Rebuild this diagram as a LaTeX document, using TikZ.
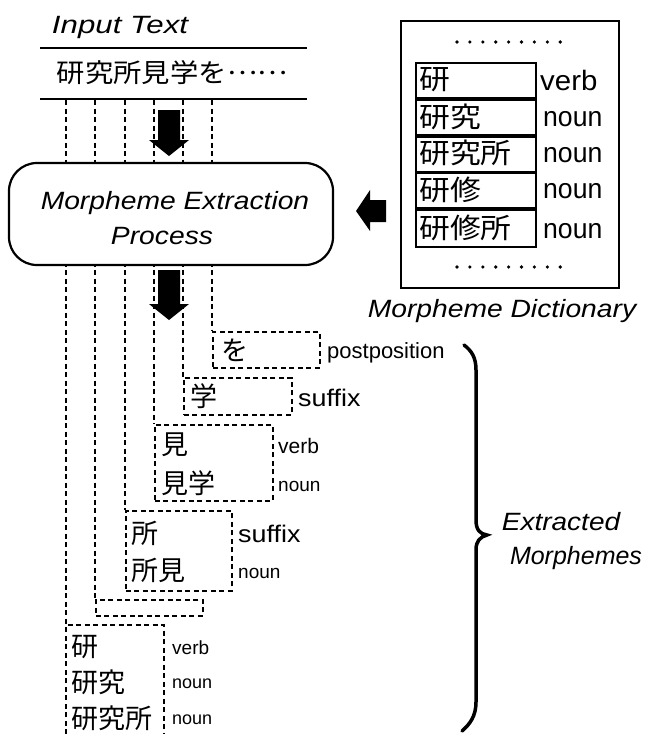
\documentclass[tikz,border=0pt]{standalone}
\usepackage{fontspec}
\setmainfont{Liberation Sans}
\newfontfamily\jpf{Noto Sans CJK JP}
\newcommand{\hsc}[2]{\scalebox{#1}[1]{#2}}
\newcommand{\fs}[1]{\fontsize{#1}{#1}\selectfont}
\tikzset{
  lbl/.style={inner sep=0pt, anchor=west},
  ctr/.style={inner sep=0pt, anchor=center},
  ital/.style={inner sep=0pt, anchor=center, font=\fs{25}\itshape},
  jp/.style={inner sep=0pt, anchor=west, font=\jpf\fs{27}},
  jpd/.style={inner sep=0pt, anchor=west, font=\jpf\fs{28}},
  dsh/.style={line width=1.8pt, dash pattern=on 5pt off 3.5pt},
  mbox/.style={draw, dsh, inner sep=0pt, anchor=north west},
  rowbox/.style={draw, line width=1.8pt, inner sep=0pt, anchor=north west, minimum width=120pt, minimum height=35pt},
  dictlbl/.style={inner sep=0pt, anchor=west, font=\fs{28}},
  blk/.style={fill=black},
}
\begin{document}
\begin{tikzpicture}[x=1pt,y=-1pt]
\useasboundingbox[fill=white] (0,0) rectangle (648,734);

% ---------- input text ----------
\node[ital] (title) at (120,27) {\hsc{1.25}{Input Text}};
\coordinate (l1a) at (40,48); \coordinate (l1b) at (307,48);
\coordinate (l2a) at (40,99); \coordinate (l2b) at (307,99);
\draw[line width=2.5pt] (l1a) -- (l1b);
\draw[line width=2.5pt] (l2a) -- (l2b);
\node[inner sep=0pt, anchor=center, font=\jpf\fs{26}] (input) at (172,73) {\hsc{1.09}{研究所見学を\raisebox{0.33em}{……}}};

% ---------- extracted morpheme boxes ----------
\node[mbox, minimum width=107pt, minimum height=36pt] (bwo) at (212,331) {};
\node[mbox, minimum width=108pt, minimum height=37pt] (bgaku) at (183,377) {};
\node[mbox, minimum width=118pt, minimum height=76pt] (bmi) at (154,424) {};
\node[mbox, minimum width=106pt, minimum height=80pt] (bsho) at (125,510) {};
\node[mbox, minimum width=107pt, minimum height=16pt] (bempty) at (95,599) {};
\coordinate (bken) at (66,625);
\coordinate (bkenr) at (164,625);
\draw[dsh] (66,734) -- (bken) -- (bkenr) -- (164,734);

% dashed guide lines from the input text down to the boxes
\coordinate (g1) at (66,100);
\coordinate (g2) at (95,100);
\coordinate (g3) at (125,100);
\coordinate (g4) at (154,100);
\coordinate (g5) at (183,100);
\coordinate (g6) at (212,100);
\draw[dsh] (g1) -- (bken);
\draw[dsh] (g2) -- (bempty.north west);
\draw[dsh] (g3) -- (bsho.north west);
\draw[dsh] (g4) -- (bmi.north west);
\draw[dsh] (g5) -- (bgaku.north west);
\draw[dsh] (g6) -- (bwo.north west);

% ---------- process box ----------
\node[draw, line width=2.2pt, rounded corners=28pt, fill=white, minimum width=324pt, minimum height=102pt, inner sep=0pt] (proc) at (171,214) {};
\node[ital] (proclbl1) at (175,203) {\hsc{1.13}{Morpheme Extraction}};
\node[ital] (proclbl2) at (162,236) {\hsc{1.13}{Process}};

% ---------- block arrows ----------
\fill[blk] (158,110) -- (180,110) -- (180,140) -- (189,140) -- (169,156) -- (149,140) -- (158,140) -- cycle;
\fill[blk] (158,270) -- (180,270) -- (180,304) -- (189,304) -- (169,320) -- (149,304) -- (158,304) -- cycle;
\fill[blk] (386,200) -- (370,200) -- (370,190) -- (356,211) -- (370,231) -- (370,222) -- (386,222) -- cycle;

% ---------- dictionary ----------
\node[draw, line width=2.2pt, inner sep=0pt, anchor=north west, minimum width=218pt, minimum height=267pt] (dict) at (400,20) {};
\foreach \i in {0,...,8} {
  \fill ({457+\i*12.9},42) circle (1.8);
  \fill ({457+\i*12.9},267) circle (1.8);
}
\node[rowbox] (r1) at (415,62) {};
\node[rowbox] (r2) at (415,99) {};
\node[rowbox] (r3) at (415,136) {};
\node[rowbox] (r4) at (415,172) {};
\node[rowbox, minimum height=37pt] (r5) at (415,209) {};
\node[jpd] (k1) at (419,80) {\hsc{1.1}{研}};
\node[jpd] (k2) at (419,117) {\hsc{1.1}{研究}};
\node[jpd] (k3) at (419,153) {\hsc{1.1}{研究所}};
\node[jpd] (k4) at (419,190) {\hsc{1.1}{研修}};
\node[jpd] (k5) at (419,228) {\hsc{1.1}{研修所}};
\node[dictlbl] (p1) at (540,80) {\hsc{1.05}{verb}};
\node[dictlbl] (p2) at (543,119) {\hsc{0.95}{noun}};
\node[dictlbl] (p3) at (543,155) {\hsc{0.95}{noun}};
\node[dictlbl] (p4) at (543,191) {\hsc{0.95}{noun}};
\node[dictlbl] (p5) at (543,231) {\hsc{0.95}{noun}};
\node[ital] (dictlbl) at (502,311) {\hsc{1.13}{Morpheme Dictionary}};

% ---------- morphemes text ----------
\node[jp] (two) at (221,350) {を};
\node[lbl, font=\fs{22}] (pwo) at (327,353) {postposition};
\node[jp] (tgaku) at (190,396) {学};
\node[lbl, font=\fs{24}] (pgaku) at (298,398) {\hsc{1.12}{suffix}};
\node[jp] (tmi1) at (161,445) {見};
\node[jp] (tmi2) at (161,483) {見学};
\node[lbl, font=\fs{21}] (pmi1) at (278,446) {verb};
\node[lbl, font=\fs{19}] (pmi2) at (278,486) {noun};
\node[jp] (tsho1) at (131,533) {所};
\node[jp] (tsho2) at (131,570) {所見};
\node[lbl, font=\fs{24}] (psho1) at (238,534) {\hsc{1.12}{suffix}};
\node[lbl, font=\fs{19}] (psho2) at (238,573) {noun};
\node[jp] (tken1) at (71,647) {研};
\node[jp] (tken2) at (71,682) {研究};
\node[jp] (tken3) at (71,718) {研究所};
\node[lbl, font=\fs{19}] (pken1) at (172,648) {verb};
\node[lbl, font=\fs{18}] (pken2) at (172,684) {noun};
\node[lbl, font=\fs{18}] (pken3) at (172,720) {noun};

% ---------- brace ----------
\coordinate (brtop) at (464,345);
\coordinate (brtip) at (487,535);
\coordinate (brbot) at (462,731);
\draw[line width=3.5pt, line cap=round] (brtop) .. controls (472,351) and (476,358) .. (476,370) -- (476,520)
  .. controls (476,530) and (480,534) .. (brtip) .. controls (480,537) and (476,541) .. (476,550)
  -- (476,702) .. controls (476,716) and (470,724) .. (brbot);
\node[ital] (ext1) at (561,522) {\hsc{1.12}{Extracted}};
\node[ital] (ext2) at (576,558) {\hsc{1.0}{Morphemes}};
\end{tikzpicture}
\end{document}
